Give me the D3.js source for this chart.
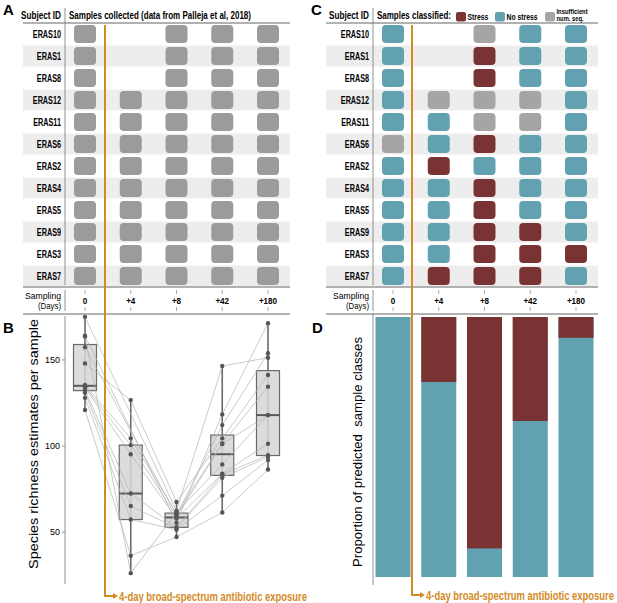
<!DOCTYPE html>
<html>
<head>
<meta charset="utf-8">
<script src="https://cdn.jsdelivr.net/npm/d3@7"></script>
<style>
body { margin: 0; background: #fff; }
text { font-family: "Liberation Sans", Arial, sans-serif; }
</style>
</head>
<body>
<svg id="fig" width="617" height="603"></svg>
<script>
// ---- data ----
const subjects = ["ERAS10", "ERAS1", "ERAS8", "ERAS12", "ERAS11", "ERAS6", "ERAS2", "ERAS4", "ERAS5", "ERAS9", "ERAS3", "ERAS7"];
const days = ["0", "+4", "+8", "+42", "+180"];

// panel A: 1 = sample collected
const collected = [
    [1, 0, 1, 1, 1],
    [1, 0, 1, 1, 1],
    [1, 0, 1, 1, 1],
    [1, 1, 1, 1, 1],
    [1, 1, 1, 1, 1],
    [1, 1, 1, 1, 1],
    [1, 1, 1, 1, 1],
    [1, 1, 1, 1, 1],
    [1, 1, 1, 1, 1],
    [1, 1, 1, 1, 1],
    [1, 1, 1, 1, 1],
    [1, 1, 1, 1, 1]
];

// panel C: S = stress, N = no stress, I = insufficient num. seq.
const classified = [
    ["N", "", "I", "N", "N"],
    ["N", "", "S", "N", "N"],
    ["N", "", "S", "N", "N"],
    ["N", "I", "I", "I", "N"],
    ["N", "N", "I", "I", "N"],
    ["I", "N", "S", "N", "N"],
    ["N", "S", "N", "N", "N"],
    ["N", "N", "S", "N", "N"],
    ["N", "N", "S", "N", "N"],
    ["N", "N", "S", "S", "N"],
    ["N", "N", "S", "S", "S"],
    ["N", "S", "S", "S", "N"]
];

// panel B: species richness per subject (same order as subjects)
const rich0   = [175, 164, 157.4, 148, 135.5, 134.5, 163.6, 134, 132.6, 131, 128, 121];
const rich4   = [null, null, null, 126.7, 104.5, 100.6, 26.3, 95.3, 72.5, 65.3, 57.4, 36.4];
const rich8   = [62.4, 55.5, 60, 67.6, 61, 59.2, 61.5, 58, 53, 52.5, 51.5, 47.3];
const rich42  = [146.5, 118.4, 112.2, 104.5, 101.6, 101.2, 89.4, 84, 83.5, 81.6, 71.3, 61.5];
const rich180 = [151.3, 171.3, 153.9, 141.3, 134.5, 118, 118, 101.4, 94.8, 93.8, 91.9, 86.4];
const richTicks = [50, 100, 150];

// panel D: proportion of classified samples predicted as stress
const stressProp = [0, 0.25, 0.89, 0.40, 0.08];

const classLegend = [
    { key: "S", label: ["Stress"] },
    { key: "N", label: ["No stress"] },
    { key: "I", label: ["Insufficient", "num. seq."] }
];

// ---- styles ----
const colClass = { S: "#7a3333", N: "#62a2b0", I: "#a5a5a5" };
const greyBox = "#9b9b9b";
const band = "#ededed";
const orange = "#d38b26";
const axisCol = "#777";

const svg = d3.select("#fig");
const rich = [rich0, rich4, rich8, rich42, rich180];

// squeeze text horizontally (the figure uses a condensed face)
function narrow(sel, k) {
    sel.each(function() {
        var w = this.getComputedTextLength();
        d3.select(this).attr("textLength", w * k).attr("lengthAdjust", "spacingAndGlyphs");
    });
}
function fit(sel, w) {
    sel.attr("textLength", w).attr("lengthAdjust", "spacingAndGlyphs");
}

var yRow = d3.scalePoint().domain(subjects).range([34, 276]);
var xA = d3.scalePoint().domain(days).range([85, 268]);
var xC = d3.scalePoint().domain(days).range([393, 576]);

//////////////////////////////
// grid panels A and C
//////////////////////////////
function grid(opt) {
    var g = svg.append("g");
    var x = opt.x;

    // alternate row bands
    g.selectAll(".band").data(subjects.filter((d, i) => i % 2 == 1)).enter()
        .append("rect")
        .attr("x", opt.left).attr("width", opt.right - opt.left)
        .attr("y", d => yRow(d) - 10.5).attr("height", 21)
        .attr("fill", band);

    // header
    g.append("text")
        .attr("x", opt.axis - 4).attr("y", 19)
        .attr("text-anchor", "end")
        .attr("font-size", 10).attr("font-weight", "bold")
        .text("Subject ID")
        .call(fit, 40);
    g.append("path")
        .attr("d", `M ${opt.left} 23 H ${opt.right}`)
        .attr("stroke", "#999").attr("stroke-width", 1.3);

    // row labels
    g.selectAll(".rl").data(subjects).enter()
        .append("text")
        .attr("x", opt.axis - 4).attr("y", d => yRow(d) + 3.8)
        .attr("text-anchor", "end")
        .attr("font-size", 10.5).attr("font-weight", "bold")
        .text(d => d)
        .call(narrow, 0.69);

    // cells
    var cells = [];
    subjects.forEach((s, i) => days.forEach((dd, j) => {
        var c = opt.cell(i, j);
        if (c) cells.push({ s: s, d: dd, c: c });
    }));
    g.selectAll(".cell").data(cells).enter()
        .append("rect")
        .attr("x", d => x(d.d) - 11).attr("y", d => yRow(d.s) - 9)
        .attr("width", 22).attr("height", 18)
        .attr("rx", 4)
        .attr("fill", d => d.c);

    // separator lines
    g.append("path")
        .attr("d", `M ${opt.axis} 8 V 285 M ${opt.axis} 290 V 311`)
        .attr("stroke", axisCol).attr("stroke-width", 0.8);
    g.append("path")
        .attr("d", `M ${opt.left} 287 H ${opt.right} M ${opt.left} 314 H ${opt.right}`)
        .attr("stroke", "#999").attr("stroke-width", 1.3);

    // sampling header
    g.append("text")
        .attr("x", opt.axis - 4).attr("y", 299)
        .attr("text-anchor", "end").attr("font-size", 9.5)
        .text("Sampling").call(fit, 36);
    g.append("text")
        .attr("x", opt.axis - 4).attr("y", 309)
        .attr("text-anchor", "end").attr("font-size", 9.5)
        .text("(Days)").call(fit, 23);
    var dt = g.selectAll(".day").data(days).enter().append("g")
        .attr("transform", d => `translate(${x(d)},0)`);
    dt.append("path")
        .attr("d", "M 0 290 V 294 M 0 307 V 311")
        .attr("stroke", "#999").attr("stroke-width", 0.8);
    dt.append("text")
        .attr("y", 304).attr("text-anchor", "middle")
        .attr("font-size", 9.5).attr("font-weight", "bold")
        .text(d => d)
        .call(narrow, 0.85);
}

grid({
    x: xA, left: 23, right: 290, axis: 65,
    cell: (i, j) => collected[i][j] ? greyBox : null
});
svg.append("text")
    .attr("x", 69).attr("y", 19)
    .attr("font-size", 10).attr("font-weight", "bold")
    .text("Samples collected (data from Palleja et al, 2018)")
    .call(fit, 182);

grid({
    x: xC, left: 326, right: 598, axis: 373,
    cell: (i, j) => classified[i][j] ? colClass[classified[i][j]] : null
});
svg.append("text")
    .attr("x", 377).attr("y", 19)
    .attr("font-size", 10).attr("font-weight", "bold")
    .text("Samples classified:")
    .call(fit, 74);

// legend
var lx = [456, 495, 545];
var leg = svg.selectAll(".leg").data(classLegend).enter().append("g")
    .attr("transform", (d, i) => `translate(${lx[i]},12)`);
leg.append("rect")
    .attr("width", 10).attr("height", 9.5).attr("rx", 2)
    .attr("fill", d => colClass[d.key]);
leg.each(function(d) {
    var g = d3.select(this);
    d.label.forEach((l, k) => {
        g.append("text")
            .attr("x", 11.5)
            .attr("y", d.label.length > 1 ? 2.2 + k * 7.2 : 8)
            .attr("font-size", d.label.length > 1 ? 7.3 : 8.5)
            .attr("font-weight", "bold")
            .text(l)
            .call(narrow, 0.8);
    });
});

//////////////////////////////
// panel B - richness boxplots
//////////////////////////////
var yB = d3.scaleLinear().domain([20, 175.5]).range([584, 316]);

svg.append("path")
    .attr("d", `M 65 ${yB.range()[1]} V ${yB.range()[0]}`)
    .attr("stroke", axisCol).attr("stroke-width", 0.8);
var yt = svg.selectAll(".ytB").data(richTicks).enter().append("g")
    .attr("transform", d => `translate(65,${yB(d)})`);
yt.append("path").attr("d", "M -3 0 H 0").attr("stroke", axisCol).attr("stroke-width", 0.8);
yt.append("text")
    .attr("x", -5).attr("dy", "0.35em").attr("text-anchor", "end")
    .attr("font-size", 9).text(d => d);
svg.append("text")
    .attr("transform", "translate(38,444) rotate(-90)")
    .attr("text-anchor", "middle").attr("font-size", 12.5)
    .text("Species richness estimates per sample")
    .call(fit, 250);

var stats = days.map((d, j) => {
    var v = rich[j].filter(x => x != null).sort(d3.ascending);
    return {
        day: d,
        lo: d3.min(v), hi: d3.max(v),
        q1: d3.quantile(v, 0.25), med: d3.quantile(v, 0.5), q3: d3.quantile(v, 0.75)
    };
});

var bw = 23;
var boxes = svg.append("g").selectAll("g").data(stats).enter().append("g")
    .attr("transform", d => `translate(${xA(d.day)},0)`);
boxes.append("path")
    .attr("d", d => `M 0 ${yB(d.hi)} V ${yB(d.lo)}`)
    .attr("stroke", "#6a6a6a").attr("stroke-width", 1.6);
boxes.append("rect")
    .attr("x", -bw / 2).attr("width", bw)
    .attr("y", d => yB(d.q3)).attr("height", d => yB(d.q1) - yB(d.q3))
    .attr("fill", "#d6d6d6").attr("fill-opacity", 0.85)
    .attr("stroke", "#6a6a6a").attr("stroke-width", 1.2);
boxes.append("path")
    .attr("d", d => `M ${-bw / 2} ${yB(d.med)} H ${bw / 2}`)
    .attr("stroke", "#5a5a5a").attr("stroke-width", 2);

// subject trajectories
var line = d3.line()
    .x(d => xA(d[0]))
    .y(d => yB(d[1]));
var traj = subjects.map((s, i) => days.map((d, j) => [d, rich[j][i]]).filter(p => p[1] != null));
svg.append("g").selectAll("path").data(traj).enter().append("path")
    .attr("d", line)
    .attr("fill", "none").attr("stroke", "#b3b3b3").attr("stroke-width", 0.7);

var pts = [];
days.forEach((d, j) => rich[j].forEach(v => { if (v != null) pts.push([d, v]); }));
svg.append("g").selectAll("circle").data(pts).enter().append("circle")
    .attr("cx", d => xA(d[0])).attr("cy", d => yB(d[1]))
    .attr("r", 2.2).attr("fill", "#555");

//////////////////////////////
// panel D - stacked proportions
//////////////////////////////
var yD = d3.scaleLinear().domain([0, 1]).range([577, 317]);
var barW = 35;
var bars = svg.append("g").selectAll("g").data(days).enter().append("g")
    .attr("transform", d => `translate(${xC(d) - barW / 2},0)`);
bars.append("rect")
    .attr("y", yD(1)).attr("height", yD(0) - yD(1)).attr("width", barW)
    .attr("fill", colClass.N);
bars.append("rect")
    .attr("y", yD(1)).attr("width", barW)
    .attr("height", (d, j) => yD(1 - stressProp[j]) - yD(1))
    .attr("fill", colClass.S);
svg.append("path")
    .attr("d", "M 373 313 V 585")
    .attr("stroke", axisCol).attr("stroke-width", 0.8);
svg.append("text")
    .attr("transform", "translate(362,452) rotate(-90)")
    .attr("text-anchor", "middle").attr("font-size", 12.5)
    .attr("xml:space", "preserve")
    .text("Proportion of predicted  sample classes")
    .call(fit, 230);

//////////////////////////////
// antibiotic exposure markers
//////////////////////////////
[{ x: 105, y: 596, w: 188 }, { x: 412, y: 595, w: 188 }].forEach(m => {
    svg.append("path")
        .attr("d", `M ${m.x} 25 V ${m.y} H ${m.x + 9}`)
        .attr("fill", "none").attr("stroke", orange).attr("stroke-width", 2);
    svg.append("path")
        .attr("d", `M ${m.x + 8} ${m.y - 3} L ${m.x + 13} ${m.y} L ${m.x + 8} ${m.y + 3} Z`)
        .attr("fill", orange);
    svg.append("text")
        .attr("x", m.x + 14).attr("y", m.y + 4.5)
        .attr("font-size", 12).attr("font-weight", "bold")
        .attr("fill", orange)
        .text("4-day broad-spectrum antibiotic exposure")
        .call(fit, m.w);
});

// panel letters
[["A", 3, 15], ["B", 3, 333], ["C", 311, 15], ["D", 312, 333]].forEach(p => {
    svg.append("text")
        .attr("x", p[1]).attr("y", p[2])
        .attr("font-size", 15).attr("font-weight", "bold")
        .text(p[0]);
});
</script>
</body>
</html>
